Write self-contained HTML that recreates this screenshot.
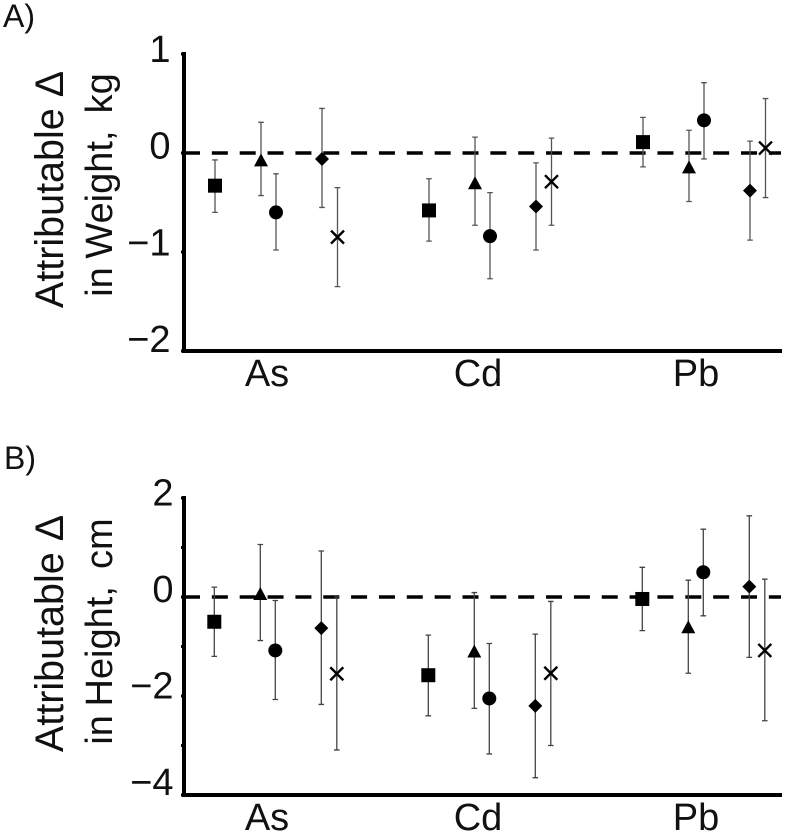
<!DOCTYPE html>
<html>
<head>
<meta charset="utf-8">
<title>Attributable change in weight and height</title>
<style>
html,body{margin:0;padding:0;background:#fff;width:785px;height:837px;overflow:hidden}
svg{display:block}
text{font-family:"Liberation Sans",Arial,sans-serif;fill:#111}
</style>
</head>
<body>
<svg id="figure" xmlns="http://www.w3.org/2000/svg" width="785" height="837" viewBox="0 0 785 837">
  <text x="3" y="27" font-size="32">A)</text>
  <text x="4" y="469" font-size="32">B)</text>
  <text transform="translate(63,189.5) rotate(-90)" text-anchor="middle" font-size="39.5">Attributable Δ</text>
  <text transform="translate(112,185) rotate(-90)" text-anchor="middle" font-size="38" word-spacing="-2">in Weight,&#160;&#160;kg</text>
  <text transform="translate(63,633.5) rotate(-90)" text-anchor="middle" font-size="39.5">Attributable Δ</text>
  <text transform="translate(112,631.5) rotate(-90)" text-anchor="middle" font-size="38" word-spacing="-2">in Height,&#160;&#160;cm</text>
  <g id="panel-a"></g>
  <g id="panel-b"></g>
</svg>
<script>
const categories = ['As', 'Cd', 'Pb'];
const seriesNames = ['square', 'triangle', 'circle', 'diamond', 'cross'];

const weightTicks = [1, 0, -1, -2];
const weightTickLabels = ['1', '0', '\u22121', '\u22122'];
const weightMeans = [
  [-0.33, -0.07, -0.60, -0.06, -0.85],
  [-0.58, -0.30, -0.84, -0.54, -0.29],
  [0.11, -0.14, 0.33, -0.38, 0.05]
];
const weightLows = [
  [-0.60, -0.43, -0.98, -0.55, -1.35],
  [-0.89, -0.73, -1.27, -0.98, -0.73],
  [-0.14, -0.49, -0.06, -0.88, -0.45]
];
const weightHighs = [
  [-0.07, 0.31, -0.21, 0.45, -0.35],
  [-0.26, 0.16, -0.40, -0.10, 0.15],
  [0.36, 0.23, 0.71, 0.12, 0.55]
];

const heightTicks = [2, 1, 0, -1, -2, -3, -4];
const heightTickLabelValues = [2, 0, -2, -4];
const heightTickLabels = ['2', '0', '\u22122', '\u22124'];
const heightMeans = [
  [-0.50, 0.07, -1.08, -0.63, -1.55],
  [-1.58, -1.09, -2.05, -2.20, -1.54],
  [-0.04, -0.60, 0.50, 0.21, -1.08]
];
const heightLows = [
  [-1.20, -0.88, -2.07, -2.17, -3.09],
  [-2.40, -2.25, -3.17, -3.65, -3.00],
  [-0.68, -1.54, -0.38, -1.22, -2.50]
];
const heightHighs = [
  [0.20, 1.06, -0.07, 0.93, 0.00],
  [-0.77, 0.09, -0.94, -0.75, -0.09],
  [0.60, 0.34, 1.37, 1.64, 0.36]
];

const SVG_NS = 'http://www.w3.org/2000/svg';

function make(parent, tag, attrs) {
  const el = document.createElementNS(SVG_NS, tag);
  for (const k in attrs) el.setAttribute(k, attrs[k]);
  parent.appendChild(el);
  return el;
}

function drawMarker(parent, kind, cx, cy) {
  let el;
  if (kind === 'square') {
    el = make(parent, 'rect', { x: cx - 7, y: cy - 7, width: 14, height: 14, fill: '#000' });
  } else if (kind === 'triangle') {
    el = make(parent, 'polygon', { points: (cx - 7) + ',' + (cy + 6.5) + ' ' + (cx + 7) + ',' + (cy + 6.5) + ' ' + cx + ',' + (cy - 6.5), fill: '#000' });
  } else if (kind === 'circle') {
    el = make(parent, 'circle', { cx: cx, cy: cy, r: 7, fill: '#000' });
  } else if (kind === 'diamond') {
    el = make(parent, 'polygon', { points: (cx - 7) + ',' + cy + ' ' + cx + ',' + (cy - 7) + ' ' + (cx + 7) + ',' + cy + ' ' + cx + ',' + (cy + 7), fill: '#000' });
  } else {
    el = make(parent, 'path', { d: 'M' + (cx - 6.5) + ' ' + (cy - 6.5) + 'L' + (cx + 6.5) + ' ' + (cy + 6.5) + 'M' + (cx + 6.5) + ' ' + (cy - 6.5) + 'L' + (cx - 6.5) + ' ' + (cy + 6.5), stroke: '#000', 'stroke-width': 2.4, fill: 'none' });
  }
  return el;
}

function drawPanel(cfg) {
  const root = document.getElementById(cfg.id);
  const yScale = function (v) { return cfg.zeroY - cfg.unit * v; };
  const labelY = function (v) { return cfg.labelZero - cfg.labelUnit * v; };
  const seriesOffset = [0, 46, 61, 107, 122.5];
  const xScale = function (c, s) { return cfg.firstX + 214 * c + seriesOffset[s]; };
  const centerOffset = [267, 478, 696];
  const top = yScale(cfg.ticks[0]);
  const bottom = yScale(cfg.ticks[cfg.ticks.length - 1]);

  const zero = make(root, 'line', { x1: 184, x2: 781, y1: yScale(0), y2: yScale(0), stroke: '#000', 'stroke-width': 3.4, 'stroke-dasharray': '16 11.85' });
  
  

  const yAxis = make(root, 'line', { x1: 184, x2: 184, y1: top - 2, y2: bottom + 2, stroke: '#000', 'stroke-width': 4 });
  
  

  const xAxis = make(root, 'line', { x1: 182, x2: 782, y1: bottom, y2: bottom, stroke: '#000', 'stroke-width': 4 });
  
  

  cfg.ticks.forEach(function (t) {
    const tick = make(root, 'line', { x1: 181, x2: 184, y1: yScale(t), y2: yScale(t), stroke: '#000', 'stroke-width': 3 });
    
    
  });

  cfg.labelValues.forEach(function (v, i) {
    const label = make(root, 'text', { x: cfg.labelX, y: labelY(v), 'text-anchor': 'end', 'font-size': 38 });
    label.textContent = cfg.labels[i];
    
    
  });

  categories.forEach(function (name, c) {
    const label = make(root, 'text', { x: centerOffset[c], y: cfg.categoryY, 'text-anchor': 'middle', 'font-size': 38 });
    label.textContent = name;
    
    

    seriesNames.forEach(function (kind, s) {
      const x = xScale(c, s);
      const bars = make(root, 'path', {
        d: 'M' + x + ' ' + yScale(cfg.lows[c][s]) + 'V' + yScale(cfg.highs[c][s]) +
           'M' + (x - 2.8) + ' ' + yScale(cfg.lows[c][s]) + 'H' + (x + 2.8) +
           'M' + (x - 2.8) + ' ' + yScale(cfg.highs[c][s]) + 'H' + (x + 2.8),
        stroke: cfg.barColor, 'stroke-width': 1.3, fill: 'none'
      });
      
      

      const marker = drawMarker(root, kind, x, yScale(cfg.means[c][s]));
      
      
    });
  });
}

drawPanel({
  id: 'panel-a', zeroY: 153, unit: 99, labelZero: 158.7, labelUnit: 96.7, labelX: 170.5,
  firstX: 215, categoryY: 386, barColor: '#555',
  ticks: weightTicks, labelValues: weightTicks, labels: weightTickLabels,
  means: weightMeans, lows: weightLows, highs: weightHighs
});
drawPanel({
  id: 'panel-b', zeroY: 597, unit: 49.5, labelZero: 602, labelUnit: 48.3, labelX: 173.5,
  firstX: 214.3, categoryY: 830, barColor: '#444',
  ticks: heightTicks, labelValues: heightTickLabelValues, labels: heightTickLabels,
  means: heightMeans, lows: heightLows, highs: heightHighs
});
</script>
</body>
</html>
